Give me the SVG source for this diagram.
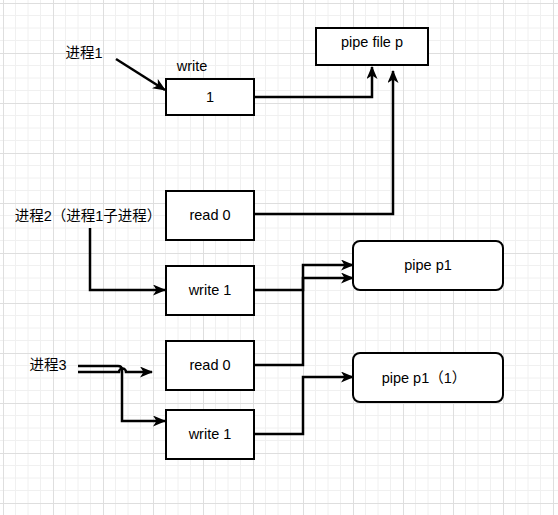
<svg xmlns="http://www.w3.org/2000/svg" width="558" height="515" viewBox="0 0 558 515">
<defs>
<pattern id="grid" x="3" y="3" width="50" height="50" patternUnits="userSpaceOnUse">
<path d="M12.5,0V50M25,0V50M37.5,0V50M0,12.5H50M0,25H50M0,37.5H50" stroke="#f0f0f0" stroke-width="1" fill="none"/>
<path d="M0.5,0V50M0,0.5H50" stroke="#dedede" stroke-width="1" fill="none"/>
</pattern>
<marker id="arr" viewBox="0 0 13 11" refX="12" refY="5.5" markerWidth="13" markerHeight="11" markerUnits="userSpaceOnUse" orient="auto">
<path d="M0,0 L13,5.5 L0,11 L3.5,5.5 Z" fill="#000"/>
</marker>
<style>
.box{fill:#fff;stroke:#000;stroke-width:2}
.t{font-family:"Liberation Sans","Noto Sans CJK SC",Arial,sans-serif;font-size:14.5px;fill:#000;text-anchor:middle}
.c{fill:none;stroke:#000;stroke-width:2.5;marker-end:url(#arr)}
</style>
</defs>
<rect width="558" height="515" fill="#fff"/>
<rect width="558" height="515" fill="url(#grid)"/>

<g id="connectors">
<path class="c" d="M116,59 L165,90"/>
<path class="c" d="M254,97 H372 V67"/>
<path class="c" d="M254,214 H393 V71"/>
<path class="c" d="M90,228 V290 H165"/>
<path class="c" d="M254,290 H303 V278 H353"/>
<path class="c" d="M254,365 H303 V265 H353"/>
<path class="c" d="M254,434 H303 V377 H353"/>
<path class="c" d="M78,366 H118 Q122,366 122,370 V421 H165"/>
<path class="c" d="M78,372 H119 A3.5,3.5 0 0 1 126,372 H152"/>
</g>

<g id="label-p1"><text class="t" x="84" y="58">进程1</text></g>
<g id="label-write"><text class="t" x="192" y="71">write</text></g>
<g id="label-p2"><text class="t" x="88" y="221">进程2（进程1子进程）</text></g>
<g id="label-p3"><text class="t" x="48" y="370">进程3</text></g>

<g id="n-1"><rect class="box" x="166" y="79" width="88" height="36"/><text class="t" x="210" y="102">1</text></g>
<g id="n-pipefile"><rect class="box" x="316" y="28" width="112" height="37"/><text class="t" x="372" y="47">pipe file p</text></g>
<g id="n-read0a"><rect class="box" x="166" y="191" width="88" height="49"/><text class="t" x="210" y="220">read 0</text></g>
<g id="n-write1a"><rect class="box" x="166" y="266" width="88" height="49"/><text class="t" x="210" y="295">write 1</text></g>
<g id="n-read0b"><rect class="box" x="166" y="341" width="88" height="49"/><text class="t" x="210" y="370">read 0</text></g>
<g id="n-write1b"><rect class="box" x="166" y="410" width="88" height="49"/><text class="t" x="210" y="439">write 1</text></g>
<g id="n-pipep1"><rect class="box" x="353" y="241" width="150" height="49" rx="7"/><text class="t" x="428" y="270">pipe p1</text></g>
<g id="n-pipep1-1"><rect class="box" x="353" y="353" width="150" height="49" rx="7"/><text class="t" x="424" y="383">pipe p1（1）</text></g>
</svg>
